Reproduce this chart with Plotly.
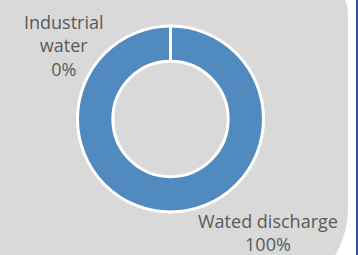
import plotly.graph_objects as go

# Data
categories = ["Industrial water", "Wated discharge"]
values = [0, 100]
label_text = ["Industrial<br>water", "Wated discharge"]

W, H = 358, 255
total = sum(values)
pcts = [f"{round(v / total * 100)}%" for v in values]

def px(x):
    return x / W

def py(y):
    return 1 - y / H

CX, CY, RO, HOLE = 170.5, 119, 93, 0.62

fig = go.Figure()
fig.add_trace(go.Pie(
    labels=categories,
    values=values,
    hole=HOLE,
    sort=False,
    direction="clockwise",
    rotation=0,
    textinfo="none",
    hoverinfo="label+percent",
    marker=dict(colors=["#508ABE", "#508ABE"], line=dict(color="#FFFFFF", width=3)),
    domain=dict(x=[px(CX - RO), px(CX + RO)], y=[py(CY + RO), py(CY - RO)]),
    showlegend=False,
))

# background rounded panel
k = 0.5523
def P(x, y):
    return f"{px(x):.5f},{py(y):.5f}"
r1, r2 = 40, 93
R, T, B, L = 348, -25, 301, -10
path = (
    f"M {P(L, T)} L {P(R - r1, T)} "
    f"C {P(R - r1 + r1 * k, T)} {P(R, T + r1 - r1 * k)} {P(R, T + r1)} "
    f"L {P(R, B - r2)} "
    f"C {P(R, B - r2 + r2 * k)} {P(R - r2 + r2 * k, B)} {P(R - r2, B)} "
    f"L {P(L, B)} Z"
)
fig.add_shape(type="path", path=path, xref="paper", yref="paper",
              fillcolor="#D9D9D9", line=dict(width=0), layer="below")
fig.add_shape(type="line", xref="paper", yref="paper",
              x0=px(357), x1=px(357), y0=-0.1, y1=1.1,
              line=dict(color="#2F5597", width=2), layer="below")
# slice boundary at 12 o'clock (start of the 0% slice)
fig.add_shape(type="line", xref="paper", yref="paper",
              x0=px(CX), x1=px(CX), y0=py(CY - RO - 1.5), y1=py(CY - RO * HOLE + 1.5),
              line=dict(color="#FFFFFF", width=3), layer="above")

font = dict(family="Open Sans", size=18, color="#595959")
fig.add_annotation(x=px(64), y=py(45), xref="paper", yref="paper",
                   text=f"{label_text[0]}<br>{pcts[0]}", showarrow=False,
                   xanchor="center", yanchor="middle", align="center", font=font)
fig.add_annotation(x=px(267.5), y=py(232.5), xref="paper", yref="paper",
                   text=f"{label_text[1]}<br>{pcts[1]}", showarrow=False,
                   xanchor="center", yanchor="middle", align="center", font=font)

fig.update_layout(
    width=W, height=H,
    margin=dict(l=0, r=0, t=0, b=0),
    paper_bgcolor="#FFFFFF",
    plot_bgcolor="#FFFFFF",
)
fig.write_html("out.html", config={"displayModeBar": False},
               post_script="document.body.style.margin='0';")
